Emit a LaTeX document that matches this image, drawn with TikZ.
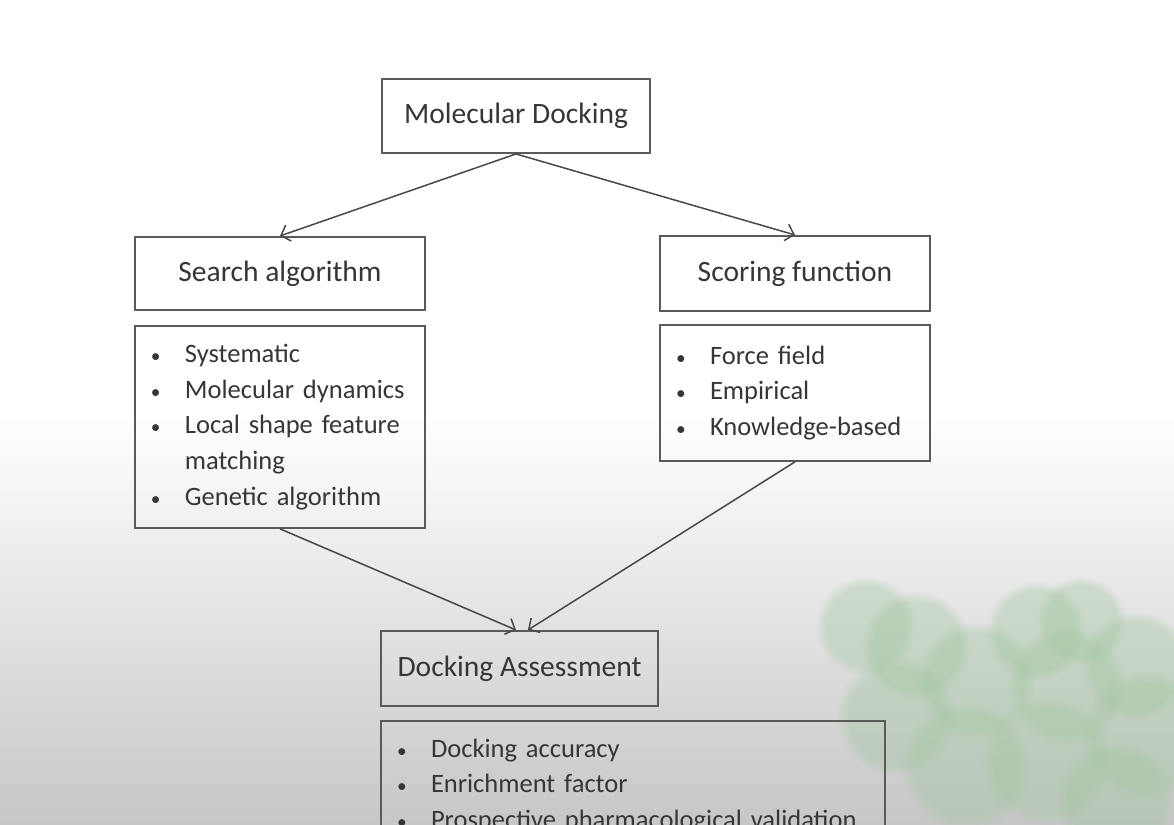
\documentclass[tikz,border=0pt]{standalone}
\usepackage{fontspec}
\setmainfont{Carlito}
\usepackage{tikz}
\usepackage{xcolor}
\usetikzlibrary{arrows.meta, positioning, calc, fadings}

\definecolor{boxline}{HTML}{5A5A5A}
\definecolor{boxtext}{HTML}{363636}
\definecolor{leafgreen}{HTML}{9CC49A}

\newcommand{\bul}[1]{\makebox[0.9cm][l]{\hspace{0.22cm}{\fontsize{11}{11}\selectfont\textbullet}}\mbox{#1}}
\newcommand{\cont}[1]{\hspace*{0.9cm}\mbox{#1}}

\begin{document}
\begin{tikzpicture}[
    heading/.style={draw=boxline, line width=1.1pt, text=boxtext, font=\fontsize{16.8}{20}\selectfont, minimum height=1.48cm},
    listbox/.style={draw=boxline, line width=1.1pt, text=boxtext, font=\fontsize{15.1}{20.3}\selectfont, align=left, inner xsep=0.1cm},
    arrow/.style={-{Straight Barb[length=1.6mm, width=3.4mm]}, draw=boxline!80!black, line width=0.85pt}
]
    % Frame and background
    \useasboundingbox (-10.32,2.32) rectangle (13.16,-14.16);
    \clip (-10.32,2.32) rectangle (13.16,-14.16);
    \fill[white] (-10.32,2.32) rectangle (13.16,-6);
    \shade[top color=white, bottom color=black!22] (-10.32,-6) rectangle (13.16,-14.16);
    \foreach \x/\y/\r in {7.0/-10.2/1.0, 8.0/-10.6/1.1, 7.6/-12.0/1.2, 9.2/-11.3/1.2, 9.0/-13.0/1.3,
                          10.4/-10.3/1.0, 11.3/-10.1/0.9, 11.0/-11.4/1.2, 12.4/-11.0/1.1,
                          12.6/-12.4/1.3, 10.6/-12.9/1.3, 12.0/-13.7/1.2}
        \fill[leafgreen, opacity=0.35, path fading=circle with fuzzy edge 20 percent] (\x,\y) circle (\r);

    % Headings
    \node (dock) [heading, minimum width=5.36cm] {Molecular Docking};
    \node (search) [heading, minimum width=5.8cm, minimum height=1.46cm, below=1.64cm of dock, xshift=-4.72cm] {Search algorithm};
    \node (scoring) [heading, minimum width=5.4cm, minimum height=1.5cm, below=1.62cm of dock, xshift=5.58cm] {Scoring function};

    % Lists
    \node (searchlist) [listbox, text width=5.6cm, minimum height=4.04cm, below=0.28cm of search] {\bul{Systematic}\\ \bul{Molecular dynamics}\\ \bul{Local shape feature}\\ \cont{matching}\\ \bul{Genetic algorithm}};
    \node (scorelist) [listbox, text width=5.2cm, minimum height=2.72cm, below=0.24cm of scoring] {\bul{Force field}\\ \bul{Empirical}\\ \bul{Knowledge-based}};

    % Assessment
    \node (assess) [heading, minimum width=5.54cm, minimum height=1.5cm, below=9.52cm of dock, xshift=0.07cm] {Docking Assessment};
    \node (assesslist) [listbox, text width=9.88cm, minimum height=2.6cm, below=0.26cm of assess.south west, anchor=north west] {\bul{Docking accuracy}\\ \bul{Enrichment factor}\\ \bul{Prospective pharmacological validation}};

    % Connections
    \draw[arrow] (dock.south) -- (search.north);
    \draw[arrow] (dock.south) -- (scoring.north);
    \draw[arrow] (searchlist.south) -- ([xshift=-0.07cm]assess.north);
    \draw[arrow] (scorelist.south) -- ([xshift=0.17cm]assess.north);
\end{tikzpicture}
\end{document}
